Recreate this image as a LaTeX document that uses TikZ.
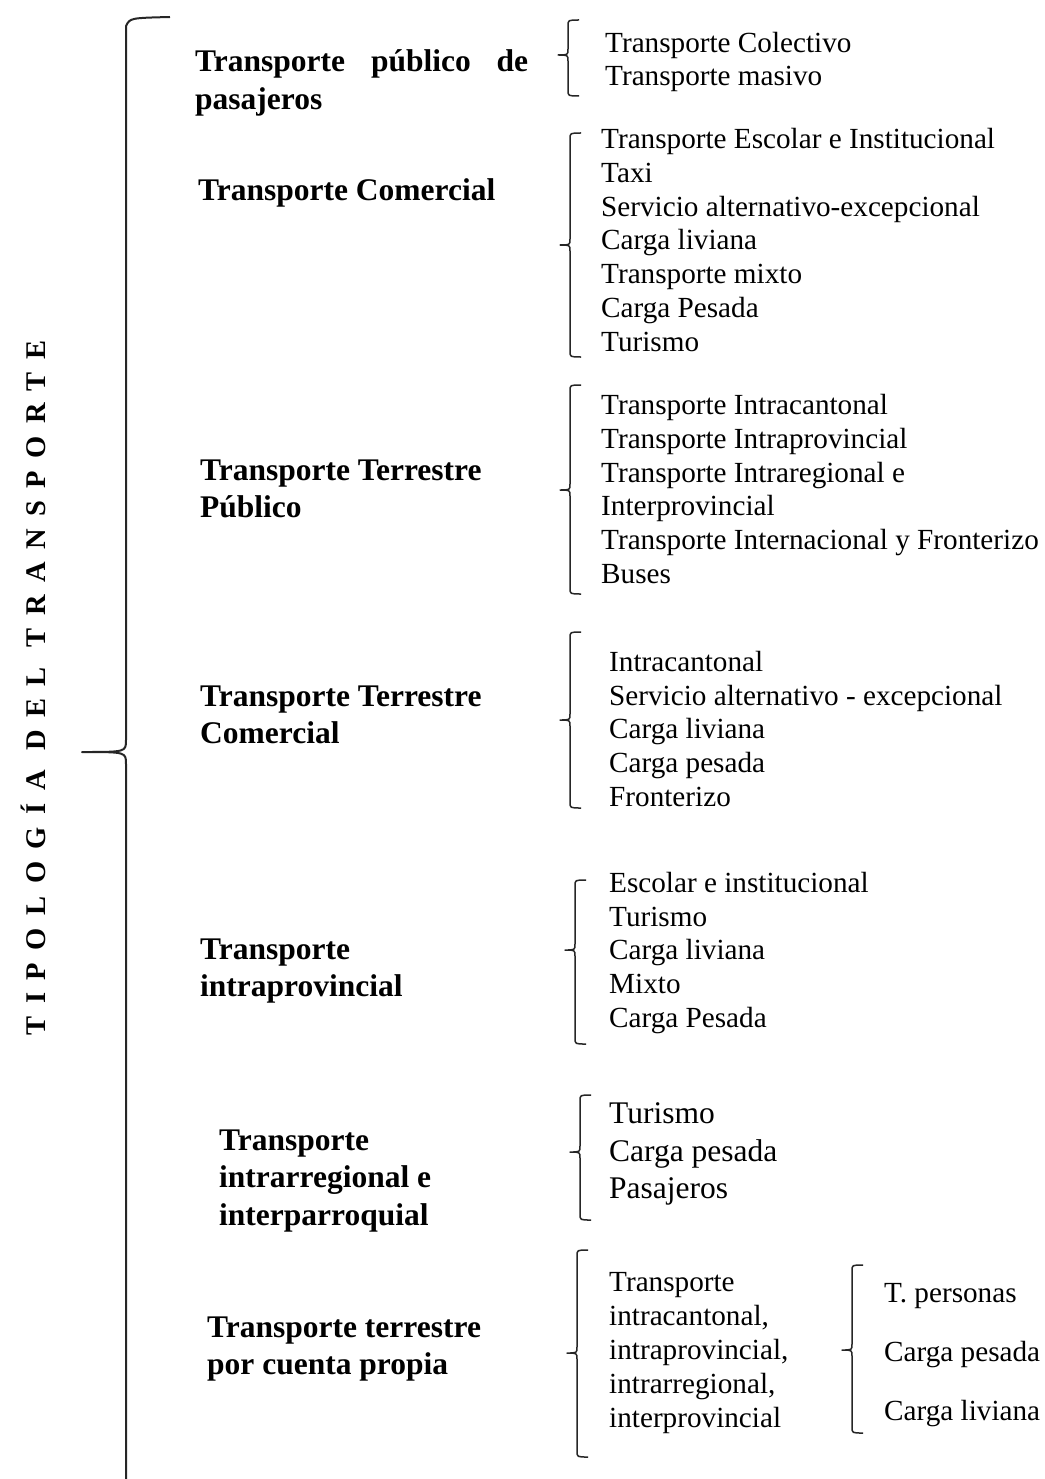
\documentclass[tikz,border=0pt]{standalone}
\usepackage{fontspec}
\setmainfont{Liberation Serif}
\tikzset{
  {cat/.style} ={anchor=west, align=left, inner sep=0,
                 font=\fontsize{31.5}{37.5}\selectfont\bfseries},
  {item/.style} ={anchor=west, align=left, inner sep=0,
                 font=\fontsize{29.2}{33.8}\selectfont},
  {big item/.style} ={item, font=\fontsize{31.5}{37.5}\selectfont},
  {wide item/.style} ={item, font=\fontsize{29.2}{59}\selectfont},
  {brace line/.style} ={draw, line width=1.5pt, black!85, line join=round},
  {main brace/.style} ={brace line, line width=2pt},
}
% small brace: x, top, tip, bottom
\newcommand{\sbrace}[4]{%
  \draw[brace line] ({#1+11},#2) .. controls (#1,#2) .. (#1,{#2+6})
    -- (#1,{#3-6}) .. controls (#1,#3) .. ({#1-10},#3)
    .. controls (#1,#3) .. (#1,{#3+6})
    -- (#1,{#4-6}) .. controls (#1,#4) .. ({#1+11},#4);}

\begin{document}
\begin{tikzpicture}[x=1pt,y=-1pt]
\useasboundingbox (0,0) rectangle (1044,1479);

% title and main brace
\node[rotate=90, inner sep=0,
      font=\fontsize{28.5}{28.5}\selectfont\bfseries\addfontfeatures{LetterSpace=44}]
      (tit) at (33,688) {TIPOLOGÍA DEL TRANSPORTE};
\draw[main brace] (170,17) .. controls (130,18) .. (126,26) -- (126,740)
   .. controls (126,752) .. (82,752) .. controls (126,752) .. (126,764)
   -- (126,1479);

% categories
\node[cat] (pub) at (195,83) {\makebox[333pt][s]{Transporte público de}\\pasajeros};
\node[cat] (com) at (198,193) {Transporte Comercial};
\node[cat] (ttp) at (200,489) {Transporte Terrestre\\Público};
\node[cat] (ttc) at (200,715) {Transporte Terrestre\\Comercial};
\node[cat] (tip) at (200,971) {Transporte\\intraprovincial};
\node[cat] (tir) at (219,1181) {Transporte\\intrarregional e\\interparroquial};
\node[cat] (tcp) at (207,1349) {Transporte terrestre\\por cuenta propia};

% sub types
\sbrace{568}{20}{55}{96}
\node[item] (l1) at (605,62) {Transporte Colectivo\\Transporte masivo};
\sbrace{570}{133}{245}{357}
\node[item] (l2) at (601,240) {Transporte Escolar e Institucional\\Taxi\\
  Servicio alternativo-excepcional\\Carga liviana\\Transporte mixto\\
  Carga Pesada\\Turismo};
\sbrace{570}{385}{490}{594}
\node[item] (l3) at (601,489) {Transporte Intracantonal\\Transporte Intraprovincial\\
  Transporte Intraregional e\\Interprovincial\\
  Transporte Internacional y Fronterizo\\Buses};
\sbrace{570}{632}{720}{808}
\node[item] (l4) at (609,729) {Intracantonal\\Servicio alternativo - excepcional\\
  Carga liviana\\Carga pesada\\Fronterizo};
\sbrace{575}{880}{950}{1044}
\node[item] (l5) at (609,953) {Escolar e institucional\\Turismo\\Carga liviana\\
  Mixto\\Carga Pesada};
\sbrace{580}{1095}{1152}{1220}
\node[big item] (l6) at (609,1154) {Turismo\\Carga pesada\\Pasajeros};
\sbrace{577}{1250}{1353}{1457}
\node[item] (l7) at (609,1353) {Transporte\\intracantonal,\\intraprovincial,\\
  intrarregional,\\interprovincial};
\sbrace{852}{1265}{1350}{1433}
\node[wide item] (l8) at (884,1355) {T. personas\\Carga pesada\\Carga liviana};
\end{tikzpicture}
\end{document}
